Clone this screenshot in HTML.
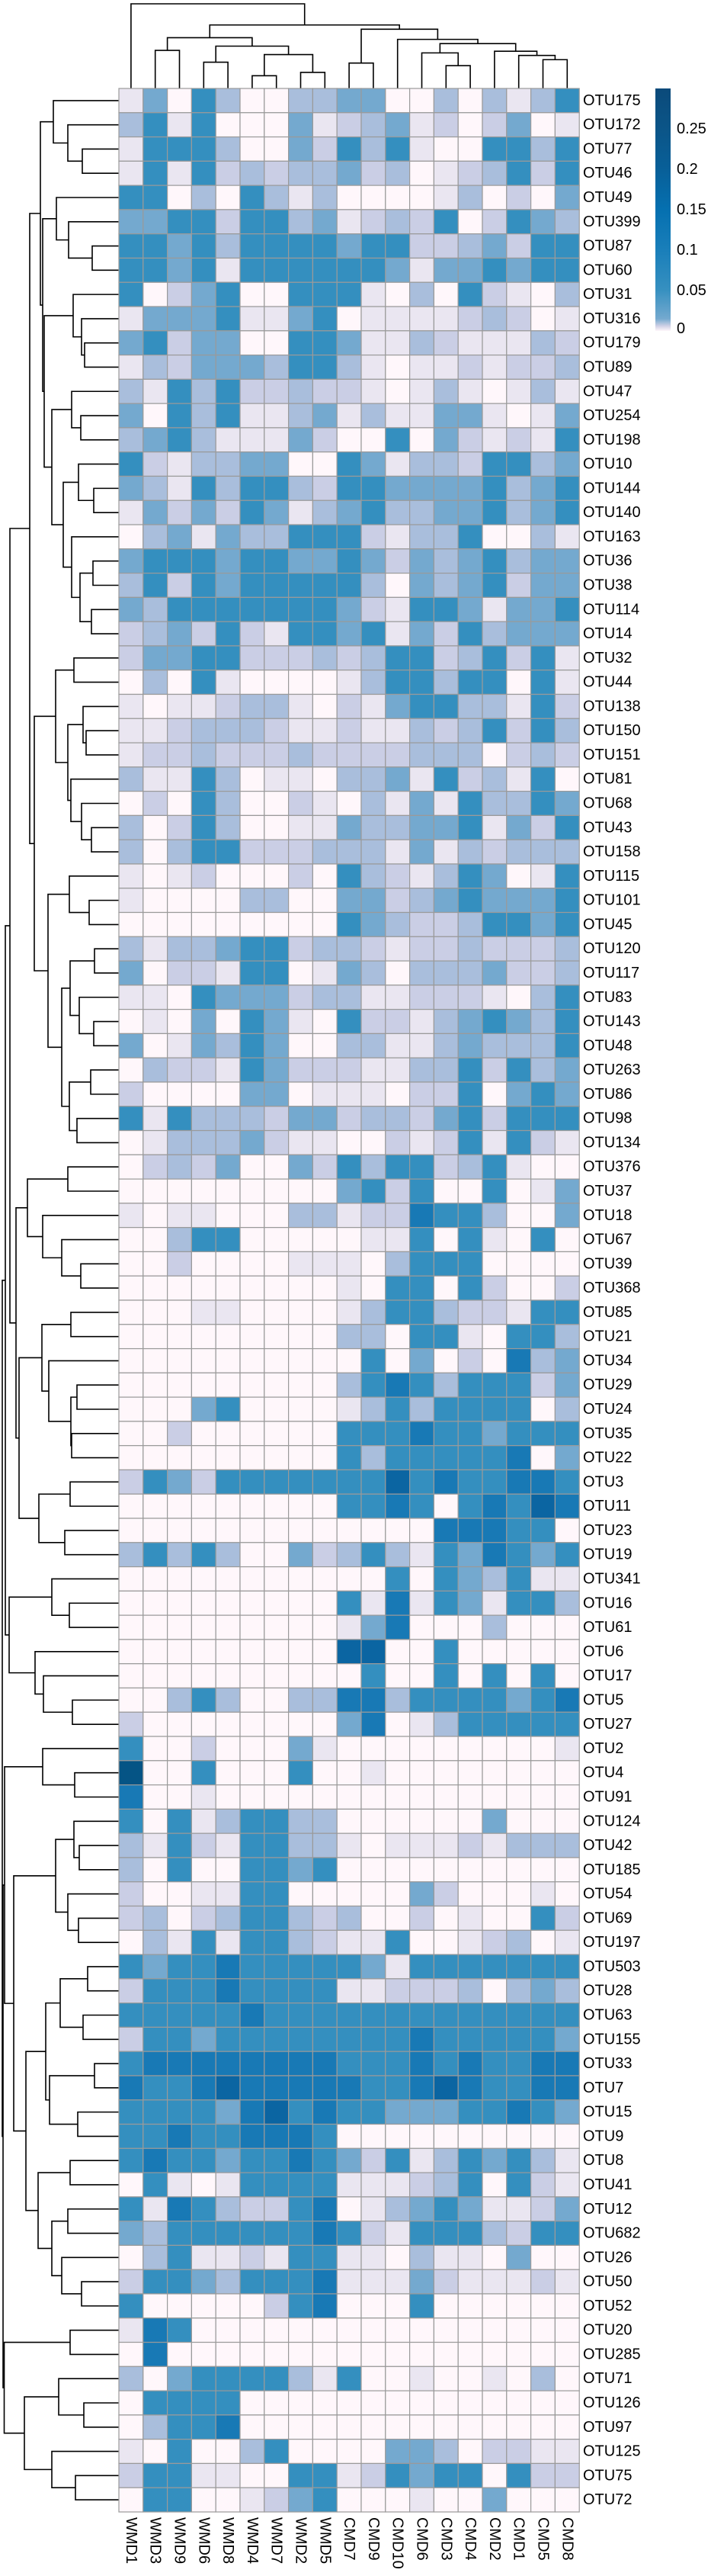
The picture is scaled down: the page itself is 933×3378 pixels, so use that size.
<!DOCTYPE html>
<html><head><meta charset="utf-8"><style>
html,body{margin:0;padding:0;background:#fff;}
svg{display:block;font-family:"Liberation Sans",Arial,sans-serif;}
</style></head><body>
<svg id="chart" width="933" height="3378" viewBox="0 0 933 3378" xmlns="http://www.w3.org/2000/svg">
<defs><linearGradient id="pubu" x1="0" y1="1" x2="0" y2="0">
<stop offset="0" stop-color="#fff7fb"/><stop offset="0.02" stop-color="#d0d1e6"/><stop offset="0.05" stop-color="#74a9cf"/><stop offset="0.17" stop-color="#3690c0"/><stop offset="0.33" stop-color="#1a7fba"/><stop offset="0.5" stop-color="#0570b0"/><stop offset="0.67" stop-color="#085f98"/><stop offset="0.83" stop-color="#0b5588"/><stop offset="1" stop-color="#0b4a7a"/>
</linearGradient></defs>
<g id="col-dendro"></g>
<g id="row-dendro"></g>
<g id="cells"></g>
<g id="rowlabels"></g>
<g id="collabels"></g>
<g id="legend">
<rect x="860" y="116" width="20" height="318" fill="url(#pubu)"/>
</g>
</svg>
<script>
const samples = ["WMD1","WMD3","WMD9","WMD6","WMD8","WMD4","WMD7","WMD2","WMD5","CMD7","CMD9","CMD10","CMD6","CMD3","CMD4","CMD2","CMD1","CMD5","CMD8"];
const otus = ["OTU175","OTU172","OTU77","OTU46","OTU49","OTU399","OTU87","OTU60","OTU31","OTU316","OTU179","OTU89","OTU47","OTU254","OTU198","OTU10","OTU144","OTU140","OTU163","OTU36","OTU38","OTU114","OTU14","OTU32","OTU44","OTU138","OTU150","OTU151","OTU81","OTU68","OTU43","OTU158","OTU115","OTU101","OTU45","OTU120","OTU117","OTU83","OTU143","OTU48","OTU263","OTU86","OTU98","OTU134","OTU376","OTU37","OTU18","OTU67","OTU39","OTU368","OTU85","OTU21","OTU34","OTU29","OTU24","OTU35","OTU22","OTU3","OTU11","OTU23","OTU19","OTU341","OTU16","OTU61","OTU6","OTU17","OTU5","OTU27","OTU2","OTU4","OTU91","OTU124","OTU42","OTU185","OTU54","OTU69","OTU197","OTU503","OTU28","OTU63","OTU155","OTU33","OTU7","OTU15","OTU9","OTU8","OTU41","OTU12","OTU682","OTU26","OTU50","OTU52","OTU20","OTU285","OTU71","OTU126","OTU97","OTU125","OTU75","OTU72"];
// relative abundance in percent (value = pct/100)
const abundancePct = [
[4,15,0,19,11,0,0,11,11,15,15,0,0,11,0,11,4,11,19],
[11,19,4,19,0,0,0,15,4,8,11,15,4,8,0,8,15,0,4],
[4,19,19,19,11,0,0,15,8,19,11,19,4,0,0,19,19,11,19],
[4,19,4,19,8,11,8,11,11,15,8,11,0,4,8,11,19,8,19],
[19,19,0,11,0,19,11,4,11,0,0,0,0,4,11,0,8,0,15],
[15,15,19,19,8,19,19,11,15,4,8,11,8,19,0,8,19,15,11],
[19,19,15,19,11,19,19,19,19,15,19,19,8,8,11,15,8,19,19],
[19,19,15,19,4,19,19,19,19,19,19,15,4,15,15,19,15,19,19],
[19,0,8,15,19,0,0,19,19,19,4,0,11,0,19,8,4,0,11],
[4,15,15,15,19,4,4,15,19,0,4,4,4,4,8,11,8,0,4],
[15,19,8,15,15,0,0,19,19,15,4,4,11,8,4,4,4,11,8],
[4,11,8,15,15,15,11,19,19,11,4,0,4,4,8,4,8,8,11],
[11,4,19,11,19,8,8,11,8,8,4,0,4,11,4,0,4,11,4],
[15,0,19,11,19,4,4,11,15,4,11,4,4,15,15,4,0,4,15],
[11,15,19,11,4,4,4,15,8,0,0,19,0,15,8,4,8,4,19],
[19,8,4,11,11,15,15,0,0,19,15,4,11,11,8,19,19,11,15],
[15,11,4,19,11,19,19,11,8,19,19,15,15,15,15,19,11,15,19],
[4,15,8,15,8,19,15,4,11,15,19,11,11,15,15,19,11,15,19],
[0,11,15,4,15,11,11,19,19,19,8,4,11,11,19,0,0,11,4],
[15,19,19,19,15,19,19,15,15,19,15,8,15,11,15,19,11,15,15],
[11,19,8,19,15,19,19,19,19,19,11,0,15,11,15,19,8,15,15],
[15,11,19,19,19,19,19,19,19,15,8,4,19,19,15,4,15,15,19],
[8,11,15,8,19,8,4,19,19,15,19,4,15,8,19,11,15,15,15],
[8,15,15,19,19,8,8,8,11,8,11,19,19,8,11,19,8,19,4],
[0,11,0,19,4,0,0,0,0,4,11,19,19,11,19,19,0,19,4],
[4,0,4,4,8,11,11,4,0,8,4,15,19,19,11,11,4,19,8],
[4,4,8,11,11,11,8,4,4,8,4,4,11,8,11,19,8,19,11],
[4,8,8,11,8,8,8,11,8,8,8,8,11,11,11,0,8,11,8],
[11,4,4,19,11,0,4,4,0,11,11,15,4,19,8,11,4,19,0],
[0,8,0,19,11,0,0,8,4,0,11,4,15,4,19,11,11,19,15],
[11,0,8,19,11,0,0,4,4,15,11,11,15,15,19,4,15,8,19],
[11,0,11,19,19,8,8,8,11,11,11,4,15,4,11,8,11,11,11],
[4,0,4,8,0,0,0,8,0,19,11,8,4,11,19,15,0,4,19],
[4,0,0,0,0,11,11,0,0,15,15,8,11,15,19,15,15,15,19],
[0,0,0,0,0,0,0,0,0,19,15,11,8,8,11,19,19,15,19],
[11,4,11,11,15,19,19,8,11,11,8,4,8,8,11,8,8,8,11],
[15,0,8,8,4,19,19,0,4,15,11,0,11,11,11,15,8,8,11],
[4,4,0,19,15,15,15,8,11,11,4,4,8,8,8,4,0,11,19],
[0,4,0,15,0,19,15,4,0,19,8,8,4,11,15,19,15,11,19],
[15,0,4,15,11,19,15,0,0,11,11,4,4,11,15,11,11,11,19],
[0,11,8,8,4,19,15,8,8,8,4,4,11,11,19,8,19,11,15],
[8,0,0,0,0,15,15,0,4,4,4,0,8,8,19,0,15,19,15],
[19,4,19,11,11,11,8,15,15,8,11,11,8,15,19,8,19,19,19],
[0,4,11,11,11,15,8,4,4,0,0,8,4,8,19,4,19,8,4],
[0,8,11,8,15,0,0,15,8,19,11,19,19,8,11,19,4,0,0],
[0,0,0,0,0,0,0,0,0,15,19,8,19,0,0,19,0,4,15],
[4,0,4,4,0,0,0,11,11,4,8,8,23,19,19,11,0,0,15],
[0,0,11,19,19,0,0,0,0,0,4,4,19,0,19,4,0,19,0],
[0,0,8,0,0,0,0,4,4,4,0,11,19,19,19,0,0,0,0],
[0,0,0,0,0,0,0,0,0,4,0,19,19,0,19,8,0,0,8],
[0,0,0,4,4,0,0,0,0,4,11,19,19,11,8,8,4,19,19],
[0,0,0,0,0,0,0,0,0,11,11,0,19,19,4,0,19,19,11],
[0,0,0,0,0,0,0,0,0,0,19,0,15,0,8,0,23,11,15],
[0,0,0,0,0,0,0,0,0,11,19,23,19,11,19,19,19,8,15],
[0,0,0,15,19,0,0,0,0,4,11,19,11,19,19,19,19,0,11],
[0,0,8,0,0,0,0,0,0,19,19,19,23,19,19,15,19,19,19],
[0,0,0,0,0,0,0,0,0,19,11,19,19,19,19,19,23,0,15],
[8,19,15,8,19,19,19,19,19,19,19,26,19,23,19,19,23,23,19],
[0,0,0,0,0,0,0,0,0,19,19,23,19,0,19,23,19,26,23],
[0,0,0,0,0,0,0,0,0,0,0,0,0,23,23,23,19,19,0],
[11,19,11,19,11,0,0,15,8,11,19,11,4,19,15,23,19,15,19],
[0,0,0,0,0,0,0,0,0,0,0,19,0,19,15,11,19,4,4],
[0,0,0,0,0,0,0,0,0,19,4,23,4,19,15,4,19,19,11],
[0,0,0,0,0,0,0,0,0,4,15,23,0,0,0,11,0,0,0],
[0,0,0,0,0,0,0,0,0,26,26,0,0,19,0,0,0,0,0],
[0,0,0,0,0,0,0,0,0,0,19,0,0,19,0,19,0,19,0],
[0,0,11,19,11,0,0,11,11,23,23,11,19,19,19,19,15,19,23],
[8,0,0,0,0,0,0,0,0,15,23,0,4,11,19,19,19,19,19],
[19,0,0,8,0,0,0,15,4,0,0,0,0,0,0,0,0,0,4],
[29,0,0,19,0,0,0,19,0,0,4,0,0,0,0,0,0,0,0],
[23,0,0,4,0,0,0,0,0,0,0,0,0,0,0,0,0,0,0],
[19,0,19,4,11,19,19,11,11,0,0,0,0,0,0,15,0,0,0],
[11,4,19,8,4,19,19,11,11,4,0,4,4,4,8,4,11,11,11],
[11,0,19,0,0,19,19,15,19,0,0,0,0,0,0,0,0,0,0],
[8,0,0,4,4,19,19,0,0,0,0,0,15,8,0,0,0,4,0],
[8,11,0,8,11,19,19,11,8,11,0,0,8,0,4,0,0,19,8],
[0,11,4,19,4,19,19,11,8,4,4,19,0,0,4,8,11,0,4],
[19,15,19,19,23,19,19,19,19,19,15,4,19,19,19,19,19,19,19],
[8,19,19,19,23,19,19,19,19,4,4,8,8,8,11,0,11,15,11],
[19,19,19,19,19,23,19,19,19,19,19,19,19,19,19,19,19,19,19],
[8,19,19,15,19,19,19,19,19,19,19,19,23,19,19,19,19,19,15],
[19,23,23,23,23,23,23,23,23,19,19,19,23,19,23,19,19,23,23],
[23,19,19,23,26,23,23,23,23,23,19,19,23,26,23,19,19,23,23],
[19,19,19,19,15,23,26,19,23,19,19,15,15,15,19,19,23,19,15],
[19,19,23,19,19,23,23,23,19,0,0,0,0,0,0,0,0,0,0],
[19,23,19,19,15,19,19,23,19,15,8,19,4,11,19,15,19,11,4],
[0,19,4,0,4,19,19,19,19,4,4,4,8,11,19,0,19,8,4],
[19,4,23,19,11,8,8,19,23,0,4,11,15,19,15,4,4,8,15],
[15,11,19,19,19,19,19,19,23,19,8,4,19,19,19,11,8,19,19],
[0,11,19,4,4,8,4,19,19,4,4,0,11,4,4,0,15,0,0],
[8,19,19,15,11,19,19,19,23,4,4,4,15,8,4,4,4,8,4],
[19,0,0,0,0,0,8,19,23,0,0,0,19,0,0,0,0,0,0],
[4,23,19,0,0,0,0,0,0,0,0,0,0,0,0,0,0,0,0],
[0,23,0,0,0,0,0,0,0,0,0,0,0,0,0,0,0,0,0],
[11,0,15,19,19,19,19,11,4,19,0,0,4,0,0,4,0,11,0],
[0,19,19,19,19,0,0,0,0,0,0,0,0,0,0,0,0,0,0],
[0,11,19,19,23,0,0,0,0,0,0,0,0,0,0,0,0,0,0],
[4,0,19,0,0,11,19,0,0,0,0,15,15,11,0,8,8,4,4],
[8,19,19,4,4,0,0,19,19,4,8,19,15,19,19,0,19,8,8],
[0,19,19,0,0,4,8,15,19,0,0,0,4,0,0,15,0,0,0]
];
const legendTicks = [0.05,0.1,0.15,0.2,0.25];
const legendTickLabels = ["0.05","0.1","0.15","0.2","0.25"];
const colTree = [1.0,0,[0.75,[0.60,[0.45,1,2],[0.50,[0.31,3,4],[0.40,[0.15,5,6],[0.19,7,8]]]],[0.70,[0.30,9,10],[0.58,11,[0.53,[0.42,12,[0.27,13,14]],[0.44,15,[0.39,16,[0.34,17,18]]]]]]]];
const rowTopA = [103,[86,0,[67,1,[48,2,3]]],[100,[82,4,[66,5,[35,6,7]]],[98,[60,8,[49,9,[45,10,11]]],[88,[62,12,[50,13,14]],[73,[53,15,[33,16,17]],[62,18,[51,[34,19,20],[36,21,22]]]]]]]];
const rowTopB = [111,[83,[59,23,24],[67,[47,25,[43,26,27]],[63,28,[49,29,[36,30,31]]]]],[93,[65,32,[39,33,34]],[75,[64,[32,35,36],[52,37,[33,38,39]]],[65,[37,40,41],[55,42,43]]]]];
const rowMid = [135,[120,[67,44,45],[100,46,[75,47,[50,48,49]]]],[131,[101,[63,50,51],[92,52,[63,[55,53,54],[62,55,56]]]],[105,[64,57,58],[71,59,60]]]];
const rowLow = [144,[88,61,[65,62,63]],[110,64,[99,65,[61,66,67]]]];
const rowBot = [152,[150,[100,68,[58,69,70]],[138,[83,[59,71,[52,72,73]],[67,74,[53,75,76]]],[122,[96,[77,[41,77,78],[47,79,80]],[91,[32,81,82],[54,83,84]]],[106,[64,85,86],[88,[67,87,88],[75,89,[49,90,91]]]]]]],[150.5,[64,92,93],[124,[79,94,[46,95,96]],[88,97,[57,98,99]]]]];
const rowTree = [153,[149,[143,[117,rowTopA,rowTopB],rowMid],rowLow],rowBot];

const NS="http://www.w3.org/2000/svg";
const gx0=156, gy0=116, cw=31.8, rh=31.78, vmax=0.3;
const stops=["#fff7fb","#ece7f2","#d0d1e6","#a6bddb","#74a9cf","#3690c0","#1a7cb8","#0a63a0","#034e7b"];
function xCol(i){return gx0+cw*i;}
function yRow(i){return gy0+rh*i;}
function color(v){
  let t=Math.max(0,Math.min(1,v/vmax))*(stops.length-1);
  let i=Math.min(stops.length-2,Math.floor(t)),f=t-i;
  const a=stops[i],b=stops[i+1];
  const c=[1,3,5].map(k=>Math.round(parseInt(a.substr(k,2),16)*(1-f)+parseInt(b.substr(k,2),16)*f));
  return "rgb("+c.join(",")+")";
}
function mk(tag,attrs,parent){const e=document.createElementNS(NS,tag);for(const k in attrs)e.setAttribute(k,attrs[k]);parent.appendChild(e);return e;}
const cells=document.getElementById('cells');
abundancePct.forEach((row,r)=>row.forEach((p,c)=>{
  const e=mk('rect',{x:xCol(c),y:yRow(r),width:cw,height:rh,fill:color(p/100),stroke:'#9a9a9a','stroke-width':1.2},cells);
  
  
}));
const rl=document.getElementById('rowlabels');
otus.forEach((o,r)=>{
  const t=mk('text',{x:765,y:yRow(r)+rh/2,'font-size':20,'dominant-baseline':'central',fill:'#000'},rl);
  t.textContent=o;
  
  
});
const cl=document.getElementById('collabels');
samples.forEach((s,c)=>{
  const x=xCol(c)+cw/2, y=3301;
  const t=mk('text',{x:x,y:y,'font-size':20,'dominant-baseline':'central',transform:'rotate(90 '+x+' '+y+')',fill:'#000'},cl);
  t.textContent=s;
  
  
});
const lg=document.getElementById('legend');
function yLegend(v){return 434-(v/vmax)*318;}
legendTicks.forEach((v,i)=>{
  const t=mk('text',{x:888,y:yLegend(v),'font-size':20,'dominant-baseline':'central',fill:'#000'},lg);
  t.textContent=legendTickLabels[i];
  
  
});
const z=mk('text',{x:888,y:yLegend(0)-3,'font-size':20,'dominant-baseline':'central',fill:'#000'},lg);
z.textContent="0";


const cd=document.getElementById('col-dendro');
function colY(h){return gy0-h*111;}
function drawCol(n){
  if(typeof n==='number') return {x:xCol(n)+cw/2,y:gy0};
  const a=drawCol(n[1]),b=drawCol(n[2]),y=colY(n[0]);
  const p=mk('path',{d:`M${a.x},${a.y}V${y}H${b.x}V${b.y}`,fill:'none',stroke:'#000','stroke-width':1.6},cd);
  
  
  return {x:(a.x+b.x)/2,y:y};
}
drawCol(colTree);
const rd=document.getElementById('row-dendro');
function rowX(h){return gx0-h;}
function drawRow(n){
  if(typeof n==='number') return {x:gx0,y:yRow(n)+rh/2};
  const a=drawRow(n[1]),b=drawRow(n[2]),x=rowX(n[0]);
  const p=mk('path',{d:`M${a.x},${a.y}H${x}V${b.y}H${b.x}`,fill:'none',stroke:'#000','stroke-width':1.6},rd);
  
  
  return {x:x,y:(a.y+b.y)/2};
}
drawRow(rowTree);
</script>
</body></html>
